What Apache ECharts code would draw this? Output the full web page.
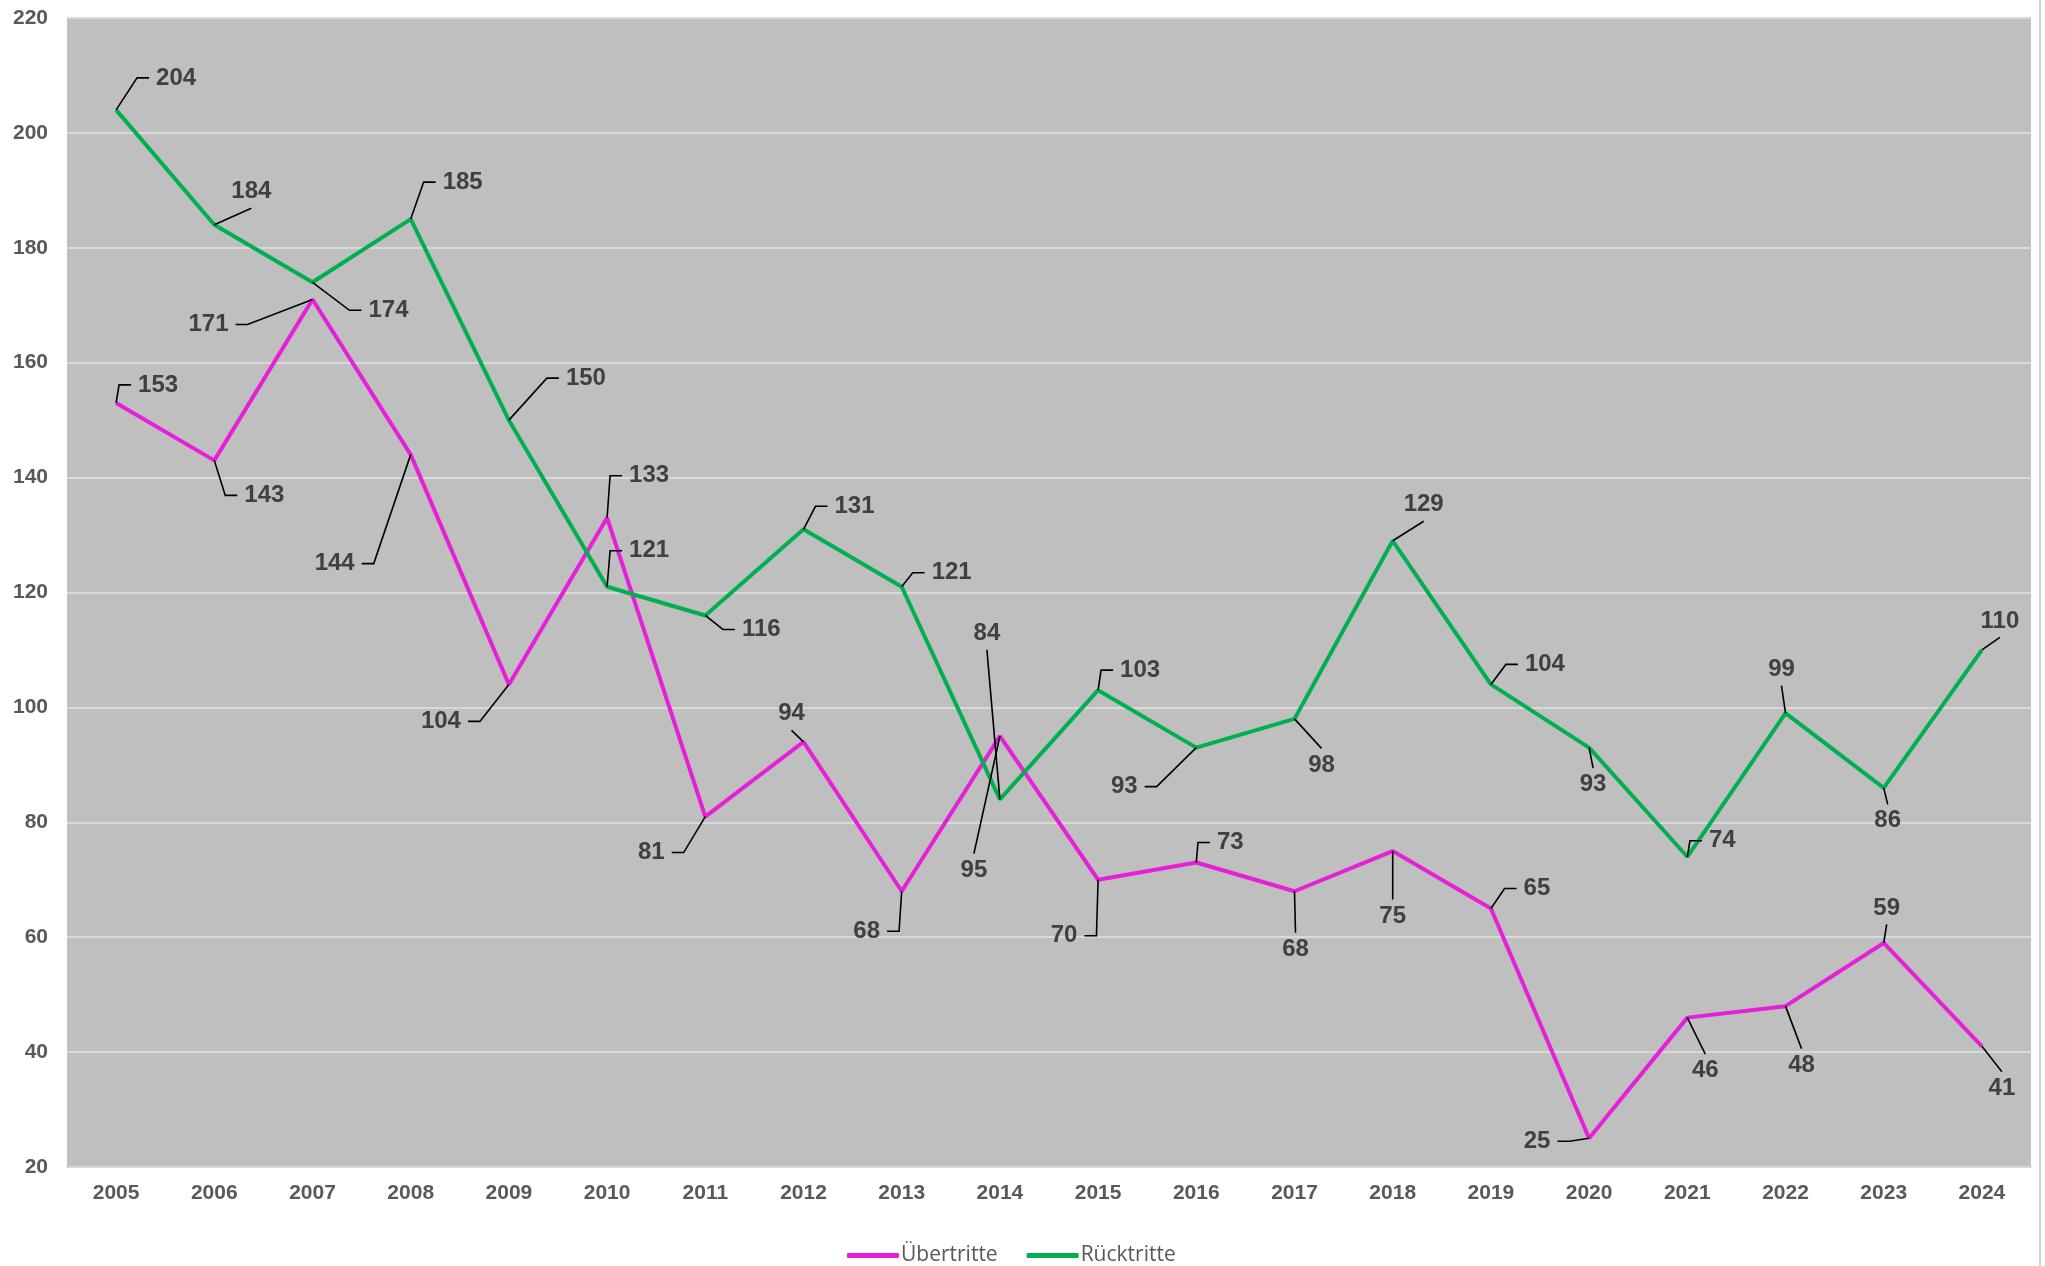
<!DOCTYPE html>
<html><head><meta charset="utf-8">
<script src="https://cdn.jsdelivr.net/npm/echarts@6/dist/echarts.min.js"></script>
<style>html,body{margin:0;padding:0;background:#fff}#c{width:2045px;height:1266px}</style>
</head><body><div id="c"></div>
<script>
const years = ['2005','2006','2007','2008','2009','2010','2011','2012','2013','2014','2015','2016','2017','2018','2019','2020','2021','2022','2023','2024'];
const uebertritte = [153,143,171,144,104,133,81,94,68,95,70,73,68,75,65,25,46,48,59,41];
const ruecktritte = [204,184,174,185,150,121,116,131,121,84,103,93,98,129,104,93,74,99,86,110];
const yMin = 20, yMax = 220, yStep = 20;

// label placement (styling only): pixel offset of label centre from its point,
// and the side of the label where the leader line enters (L/R elbow, T/B straight)
const uebLabelOffsets = [[42,-18],[50,35],[-104,25],[-76,109],[-68,37],[42,-42],[-54,36],[-12,-28],[-35,40],[-26,134],[-34,56],[34,-20],[1,58],[0,65],[46,-20],[-52,3],[18,53],[16,59],[3,-35],[20,42]];
const uebLabelSides   = ['L','L','R','R','R','L','R','B','R','T','R','L','T','T','L','R','T','T','B','T'];
const rueLabelOffsets = [[60,-32],[37,-33],[76,28],[52,-37],[77,-42],[42,-36],[56,14],[51,-23],[50,-14],[-13,-166],[42,-20],[-72,39],[27,46],[31,-36],[54,-20],[4,37],[35,-16],[-4,-44],[4,33],[18,-29]];
const rueLabelSides   = ['L','B','L','L','L','L','L','L','L','B','L','R','T','B','L','T','L','B','T','B'];

const LABEL_FONT = 'bold 24px "Liberation Sans", Arial, sans-serif';
const measureCtx = document.createElement('canvas').getContext('2d');
measureCtx.font = LABEL_FONT;
function textW(t){ return measureCtx.measureText(t).width; }

const chart = echarts.init(document.getElementById('c'), null, {renderer:'canvas'});

function mkLine(name, data, color){
  return {
    name, type:'line', data, symbol:'none', showSymbol:false,
    lineStyle:{color, width:4}, itemStyle:{color},
    emphasis:{disabled:true}, z:2
  };
}
function mkLabels(name, data, offsets, sides){
  return {
    name, type:'custom', z:5, silent:true,
    data: data.map((v,i)=>[i,v]),
    encode:{x:0, y:1},
    renderItem:(params, api)=>{
      const i = params.dataIndex;
      const v = api.value(1);
      const p = api.coord([api.value(0), v]);
      const cx = p[0] + offsets[i][0], cy = p[1] + offsets[i][1];
      const txt = String(v);
      const hw = textW(txt)/2, hh = 8.5, gap = 7, L = 12;
      let pts;
      switch (sides[i]) {
        case 'L': { const ex = cx - hw - gap; pts = [p, [ex - L, cy], [ex, cy]]; break; }
        case 'R': { const ex = cx + hw + gap; pts = [p, [ex + L, cy], [ex, cy]]; break; }
        case 'T': pts = [p, [cx, cy - hh - gap - 1]]; break;
        default:  pts = [p, [cx, cy + hh + gap + 1]]; break;
      }
      return {
        type:'group',
        children:[
          {type:'polyline', shape:{points:pts}, style:{stroke:'#000', lineWidth:1.6, fill:null}},
          {type:'text', x:cx, y:cy, style:{text:txt, font:LABEL_FONT, fill:'#404040', align:'center', verticalAlign:'middle'}}
        ]
      };
    }
  };
}

chart.setOption({
  animation:false,
  grid:{left:67, top:18, width:1964, height:1149, show:true, backgroundColor:'#bfbfbf', borderWidth:0},
  legend:{
    top:1240, left:842, icon:'roundRect', itemWidth:52, itemHeight:5, itemGap:29,
    textStyle:{fontFamily:'Open Sans', fontSize:21, color:'#595959', padding:[0,0,0,-3]},
    data:['Übertritte','Rücktritte']
  },
  xAxis:{
    type:'category', data:years, boundaryGap:true,
    axisLine:{show:true, lineStyle:{color:'#d9d9d9', width:2}},
    axisTick:{show:false},
    axisLabel:{fontSize:21, fontWeight:'bold', color:'#595959', margin:16, fontFamily:'Liberation Sans, Arial, sans-serif'}
  },
  yAxis:{
    type:'value', min:yMin, max:yMax, interval:yStep,
    axisLine:{show:false}, axisTick:{show:false},
    splitLine:{lineStyle:{color:'#d9d9d9', width:2}},
    axisLabel:{fontSize:21, fontWeight:'bold', color:'#595959', margin:19, fontFamily:'Liberation Sans, Arial, sans-serif'}
  },
  graphic:[{type:'line', shape:{x1:2040, y1:0, x2:2040, y2:1266}, style:{stroke:'#d4d4d4', lineWidth:2}, silent:true}],
  series:[
    mkLine('Übertritte', uebertritte, '#e620d8'),
    mkLine('Rücktritte', ruecktritte, '#00b050'),
    mkLabels('lblUeb', uebertritte, uebLabelOffsets, uebLabelSides),
    mkLabels('lblRue', ruecktritte, rueLabelOffsets, rueLabelSides)
  ]
});
</script></body></html>
